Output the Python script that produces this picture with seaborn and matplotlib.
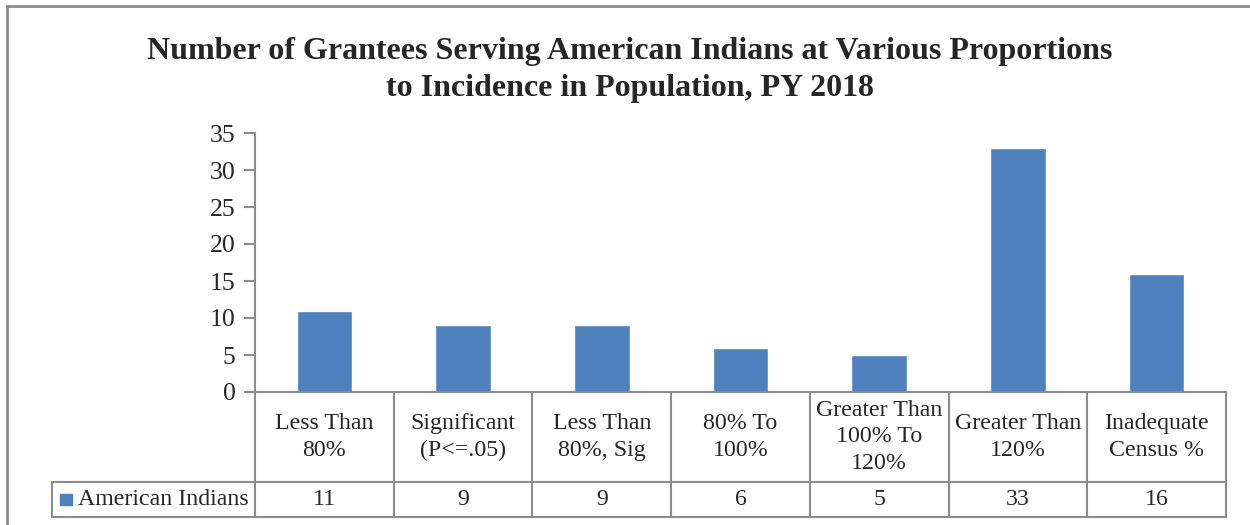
import matplotlib
matplotlib.use("Agg")
import matplotlib.pyplot as plt
import seaborn as sns
import pandas as pd
from matplotlib.lines import Line2D
from matplotlib.patches import Rectangle

categories = ["Less Than\n80%", "Significant\n(P<=.05)", "Less Than\n80%, Sig", "80% To\n100%",
              "Greater Than\n100% To\n120%", "Greater Than\n120%", "Inadequate\nCensus %"]
values = [11, 9, 9, 6, 5, 33, 16]
series_name = "American Indians"
title = "Number of Grantees Serving American Indians at Various Proportions\nto Incidence in Population, PY 2018"
yticks = [0, 5, 10, 15, 20, 25, 30, 35]

sns.set_style("white")
plt.rcParams['font.family'] = ['Liberation Serif', 'DejaVu Serif']

bar_color = "#4F81BD"
line_color = "#8C8C8C"

fig = plt.figure(figsize=(12.5, 5.25), dpi=100)
W, H = 1250, 525
ax = fig.add_axes([255 / W, 1 - 392 / H, (1226 - 255) / W, (392 - 133) / H])

df = pd.DataFrame({"cat": categories, "val": values})
sns.barplot(data=df, x="cat", y="val", color=bar_color, saturation=1, width=0.4, ax=ax)
ax.set_xlim(-0.5, len(categories) - 0.5)
ax.set_ylim(0, 35)
ax.set_yticks(yticks)
ax.set_yticklabels([str(t) for t in yticks], fontsize=18.5)
ax.set_xticks([])
ax.set_xlabel("")
ax.set_ylabel("")
for s in ["top", "right", "bottom"]:
    ax.spines[s].set_visible(False)
ax.spines["left"].set_color(line_color)
ax.spines["left"].set_linewidth(1.5)
ax.tick_params(axis="y", length=8, width=1.5, color=line_color, pad=6, left=True)

# table
tr = ax.get_xaxis_transform()
ax_h = 392 - 133
y_mid = -(482 - 392) / ax_h
y_bot = -(517 - 392) / ax_h
lw = 1.5
n = len(categories)
ax.add_line(Line2D([-8 / 971, 1], [0, 0], transform=ax.transAxes, color=line_color, lw=lw, clip_on=False))
for i in range(n + 1):
    ax.add_line(Line2D([i - 0.5, i - 0.5], [0, y_bot], transform=tr, color=line_color, lw=lw, clip_on=False))
legend_left = (52 - 255) / 971
for yy in [y_mid, y_bot]:
    ax.add_line(Line2D([legend_left, 1], [yy, yy], transform=ax.transAxes, color=line_color, lw=lw, clip_on=False))
ax.add_line(Line2D([legend_left, legend_left], [y_mid, y_bot], transform=ax.transAxes, color=line_color, lw=lw, clip_on=False))

fs = 17.2
for i, (c, v) in enumerate(zip(categories, values)):
    ax.text(i, y_mid / 2, c, transform=tr, ha="center", va="center", fontsize=fs, linespacing=1.33)
    ax.text(i, (y_mid + y_bot) / 2, str(v), transform=tr, ha="center", va="center", fontsize=fs)

# legend key
ax.add_patch(Rectangle(((60 - 255) / 971, -(505 - 392) / ax_h), 12 / 971, 11 / ax_h,
                       transform=ax.transAxes, color=bar_color, clip_on=False))
ax.text((78 - 255) / 971, (y_mid + y_bot) / 2, series_name, transform=ax.transAxes,
        ha="left", va="center", fontsize=fs)

fig.text(630 / W, 1 - 70 / H, title, ha="center", va="center", fontsize=23, fontweight="bold", linespacing=1.35)

# outer border
fig.add_artist(Line2D([7 / W, 7 / W], [0, 1 - 6 / H], transform=fig.transFigure, color="#8C8C8C", lw=2))
fig.add_artist(Line2D([7 / W, 1], [1 - 6 / H, 1 - 6 / H], transform=fig.transFigure, color="#8C8C8C", lw=2))

fig.savefig("out.png", dpi=100)
